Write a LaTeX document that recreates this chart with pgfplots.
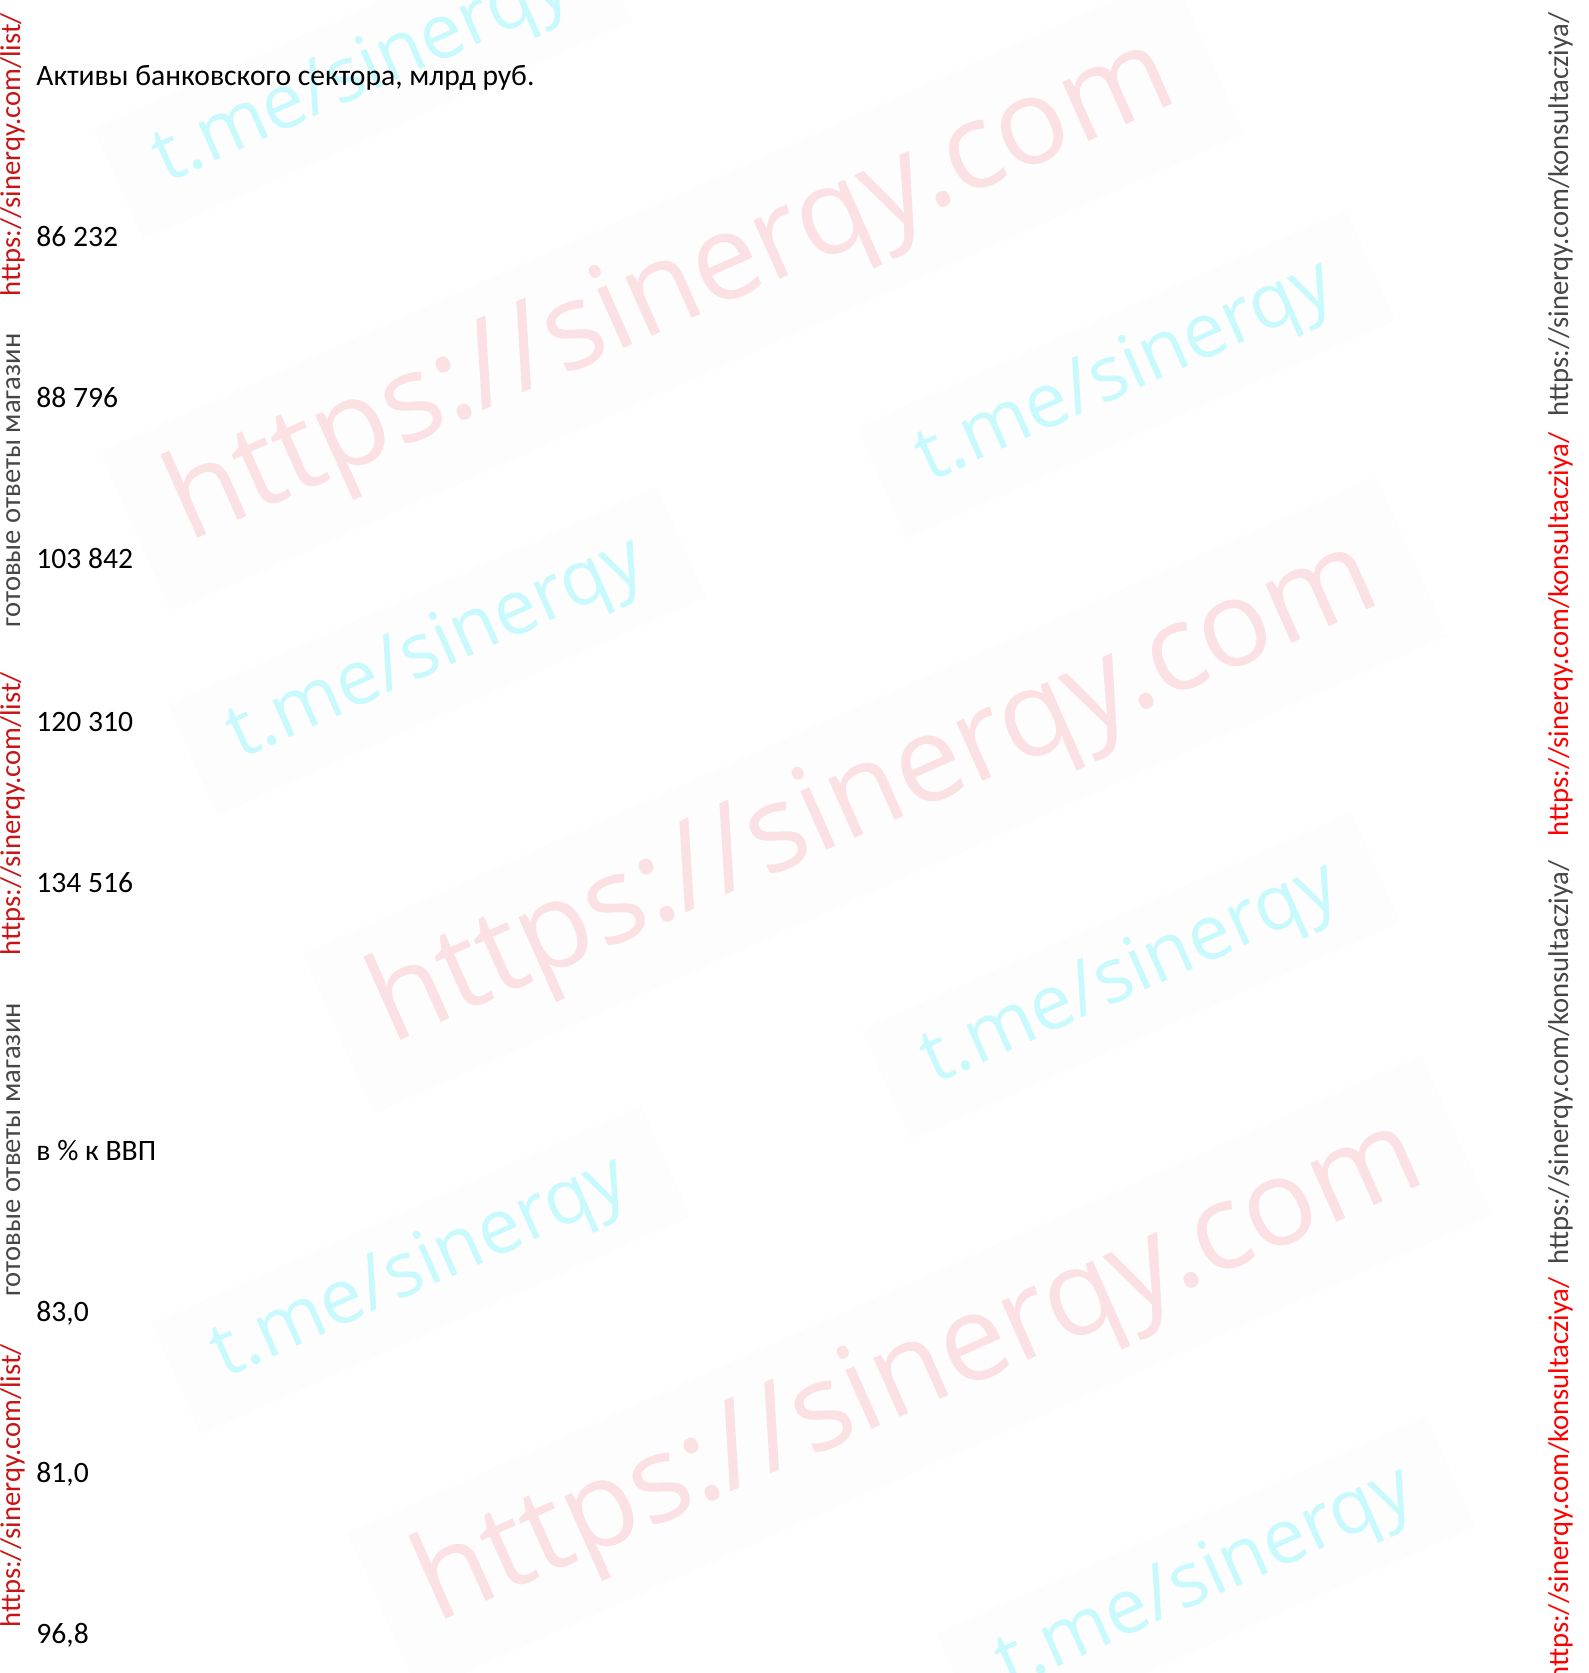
\documentclass[border=0pt]{standalone}
\usepackage{fontspec}
\setmainfont{Carlito}
\newfontfamily\wmfont{Open Sans}
\usepackage{pgfplots}
\pgfplotsset{compat=1.18}
\usepackage{pgfplotstable}
\definecolor{wmred}{RGB}{251,224,228}
\definecolor{wmcyan}{RGB}{200,250,253}
\definecolor{wmbox}{RGB}{253,253,253}
\definecolor{sidered}{RGB}{200,20,20}
\definecolor{sidegray}{RGB}{70,70,70}
\definecolor{rred}{RGB}{255,0,0}

\pgfplotstableread{
x y v
36 246.5 86232
36 407.7 88796
36 568.8 103842
36 731.0 120310
36 892.2 134516
}\assets
\pgfplotstableread{
x y v
36 1321.2 83.0
36 1482.3 81.0
36 1643.5 96.8
}\gdp

\tikzset{
  wmA/.style={rotate=24, fill=wmbox, inner xsep=22pt, inner ysep=14pt, text=wmred, font=\wmfont\fontsize{60}{66}\selectfont},
  wmB/.style={rotate=24, fill=wmbox, inner xsep=22pt, inner ysep=12pt, text=wmcyan, font=\wmfont\fontsize{38}{44}\selectfont},
  side/.style={rotate=90, anchor=base west, inner sep=0pt, font=\fontsize{14.3}{17}\selectfont},
  main/.style={anchor=base west, inner sep=0pt, font=\fontsize{14.8}{18}\selectfont, text=black}
}

\begin{document}
\begin{tikzpicture}
\begin{axis}[width=794pt, height=836.5pt, scale only axis,
  xmin=0, xmax=1588, ymin=0, ymax=1673, y dir=reverse,
  hide axis, clip=false]
% diagonal watermarks
\node[wmB] at (axis cs:363,75) {t.me/sinerqy};
\node[wmA] at (axis cs:672,293) {https://sinerqy.com};
\node[wmB] at (axis cs:1126,374) {t.me/sinerqy};
\node[wmB] at (axis cs:437,651) {t.me/sinerqy};
\node[wmA] at (axis cs:875,795) {https://sinerqy.com};
\node[wmB] at (axis cs:1131,976) {t.me/sinerqy};
\node[wmB] at (axis cs:421,1270) {t.me/sinerqy};
\node[wmA] at (axis cs:920,1374) {https://sinerqy.com};
\node[wmB] at (axis cs:1206,1580) {t.me/sinerqy};
% side texts
\node[side, text=sidered] at (axis cs:20,297) {https://sinerqy.com/list/};
\node[side, text=sidegray] at (axis cs:20,627.5) {готовые ответы магазин};
\node[side, text=sidered] at (axis cs:20,956) {https://sinerqy.com/list/};
\node[side, text=sidegray] at (axis cs:20,1297) {готовые ответы магазин};
\node[side, text=sidered] at (axis cs:20,1628) {https://sinerqy.com/list/};
\node[side, text=sidegray] at (axis cs:1568,417) {https://sinerqy.com/konsultacziya/};
\node[side, text=rred] at (axis cs:1568,837) {https://sinerqy.com/konsultacziya/};
\node[side, text=sidegray] at (axis cs:1568,1265) {https://sinerqy.com/konsultacziya/};
\node[side, text=rred] at (axis cs:1568,1682) {https://sinerqy.com/konsultacziya/};
% main content
\node[main] at (axis cs:36,85.4) {Активы банковского сектора, млрд руб.};
\addplot[draw=none, mark=none, point meta=explicit,
  nodes near coords={\pgfmathprintnumber[fixed, precision=0, 1000 sep={\ }, assume math mode=true]{\pgfplotspointmeta}},
  every node near coord/.append style={main}]
  table[x=x, y=y, meta=v] {\assets};
\node[main] at (axis cs:36,1160) {в \% к ВВП};
\addplot[draw=none, mark=none, point meta=explicit,
  nodes near coords={\pgfmathprintnumber[fixed, precision=1, zerofill, use comma, assume math mode=true]{\pgfplotspointmeta}},
  every node near coord/.append style={main}]
  table[x=x, y=y, meta=v] {\gdp};
\end{axis}
\pgfresetboundingbox
\path[use as bounding box] (current axis.south west) rectangle (current axis.north east);
\end{tikzpicture}
\end{document}
